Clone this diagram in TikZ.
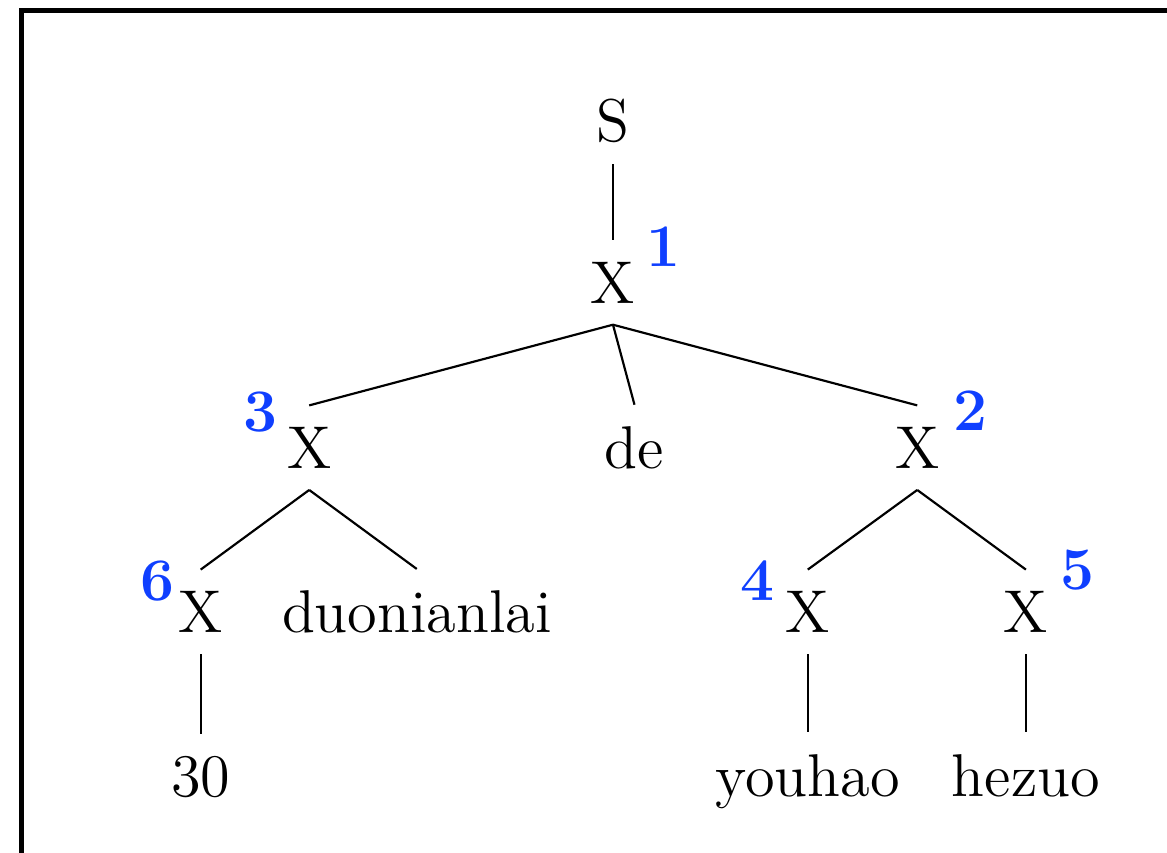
\documentclass[tikz,border=0pt]{standalone}
\usepackage{fontspec}
\setmainfont{lmroman12-regular.otf}[BoldFont=lmroman12-bold.otf]
\usepackage{tikz}
\definecolor{ink}{HTML}{000000}
\definecolor{numblue}{HTML}{0F3FFF}
\newcommand{\treesize}{\fontsize{16.7pt}{20pt}\selectfont}
\tikzset{
  every picture/.style={line width=0.6pt,draw=ink},
  tn/.style={anchor=base,font=\treesize,text=ink,inner sep=2mm},
  num/.style={anchor=base,font=\treesize\bfseries,text=numblue,inner sep=0pt},
  br/.style={draw=ink,line width=0.6pt},
}
\begin{document}
\begin{tikzpicture}[x=1mm,y=1mm]
  \useasboundingbox (0,0) rectangle (113.41,82.80);
  \draw[line width=1.4pt] (2.09,-5) rectangle (125,81.78);
  % tree
  \node[tn] (s) at (59.57,69.05) {S};
  \node[tn] (x1) at (59.57,53.35) {X};
  \node[tn] (x3) at (30.05,37.29) {X};
  \node[tn] (de) at (61.66,37.29) {de};
  \node[tn] (x2) at (89.14,37.29) {X};
  \node[tn] (x6) at (19.50,21.33) {X};
  \node[tn] (duo) at (40.50,21.33) {duonianlai};
  \node[tn] (x4) at (78.50,21.33) {X};
  \node[tn] (x5) at (99.70,21.33) {X};
  \node[tn] (n30) at (19.50,5.44) {30};
  \node[tn] (you) at (78.50,5.44) {youhao};
  \node[tn] (he) at (99.70,5.44) {hezuo};
  \draw[br] (s.south) -- (x1.north);
  \draw[br] (x1.south) -- (x3.north);
  \draw[br] (x1.south) -- (de.north);
  \draw[br] (x1.south) -- (x2.north);
  \draw[br] (x3.south) -- (x6.north);
  \draw[br] (x3.south) -- (duo.north);
  \draw[br] (x2.south) -- (x4.north);
  \draw[br] (x2.south) -- (x5.north);
  \draw[br] (x6.south) -- (n30.north);
  \draw[br] (x4.south) -- (you.north);
  \draw[br] (x5.south) -- (he.north);
  % order numbers
  \node[num] (k1) at (64.48,56.88) {1};
  \node[num] (k2) at (94.36,41.01) {2};
  \node[num] (k3) at (25.32,40.85) {3};
  \node[num] (k4) at (73.59,24.44) {4};
  \node[num] (k5) at (104.70,25.49) {5};
  \node[num] (k6) at (15.31,24.44) {6};
\end{tikzpicture}
\end{document}
